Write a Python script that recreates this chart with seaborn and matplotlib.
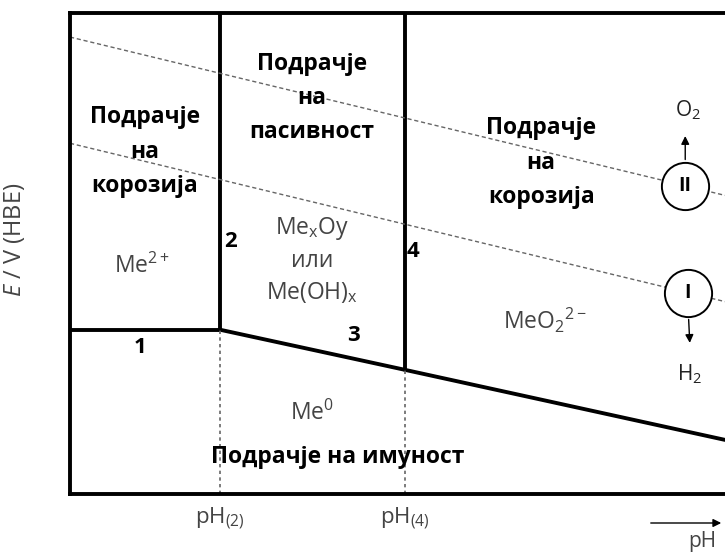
import matplotlib
matplotlib.use("Agg")
import matplotlib.pyplot as plt
from matplotlib.patches import FancyArrowPatch
import seaborn as sns

sns.set_theme(style="white")
plt.rcParams["font.family"] = ["Open Sans", "DejaVu Sans"]
plt.rcParams["mathtext.fontset"] = "custom"
plt.rcParams["mathtext.rm"] = "Open Sans"
plt.rcParams["mathtext.it"] = "Open Sans:italic"
plt.rcParams["mathtext.bf"] = "Open Sans:bold"
plt.rcParams["mathtext.default"] = "regular"

# Schematic Pourbaix diagram: pH on x, potential E on y
ph_min, ph_max = 0.0, 14.0
e_min, e_max = -1.0, 1.4

ph_2 = 3.2          # boundary 2: Me2+ / oxide
ph_4 = 7.15         # boundary 4: oxide / MeO2 2-
e_line1 = -0.18     # boundary 1: Me / Me2+

# boundary 3 (Me / oxide) and its continuation (Me / MeO2 2-)
line3_ph = [3.2, 7.15, 14.0]
line3_e = [-0.18, -0.38, -0.73]

# water stability lines
water_ph = [0.0, 14.0]
o2_e = [1.28, 0.49]
h2_e = [0.75, -0.04]

# electrode reaction markers on the water lines
marker_ph = [13.15, 13.2]
marker_e = [0.535, 0.005]
marker_txt = ["II", "I"]

tick_pos = [ph_2, ph_4]
tick_txt = [r"pH$_{(2)}$", r"pH$_{(4)}$"]

W, H = 725, 552
fig = plt.figure(figsize=(W / 100, H / 100), dpi=100)
ax = fig.add_axes([70 / W, 58 / H, 655 / W, 481 / H])
ax.set_xlim(ph_min, ph_max)
ax.set_ylim(e_min, e_max)

lw = 2.8
for side in ["left", "top", "bottom"]:
    ax.spines[side].set_color("black")
    ax.spines[side].set_linewidth(lw)
ax.spines["right"].set_visible(False)

# thick domain boundaries
sns.lineplot(x=[ph_min, ph_2], y=[e_line1, e_line1], estimator=None, sort=False,
             color="black", linewidth=lw, ax=ax)
sns.lineplot(x=[ph_2, ph_2], y=[e_line1, e_max], estimator=None, sort=False,
             color="black", linewidth=lw, ax=ax)
sns.lineplot(x=[ph_4, ph_4], y=[line3_e[1], e_max], estimator=None, sort=False,
             color="black", linewidth=lw, ax=ax)
sns.lineplot(x=line3_ph, y=line3_e, estimator=None, sort=False,
             color="black", linewidth=lw, ax=ax)

# dotted guides down to the pH axis
sns.lineplot(x=[ph_2, ph_2], y=[e_min, e_line1], estimator=None, sort=False,
             color="#666666", linewidth=1.2, linestyle=(0, (2, 2)), ax=ax)
sns.lineplot(x=[ph_4, ph_4], y=[e_min, line3_e[1]], estimator=None, sort=False,
             color="#666666", linewidth=1.2, linestyle=(0, (2, 2)), ax=ax)

# water lines
for ev in (o2_e, h2_e):
    sns.lineplot(x=water_ph, y=ev, estimator=None, sort=False,
                 color="#666666", linewidth=1.0, linestyle=(0, (3, 2)), ax=ax)

sns.scatterplot(x=marker_ph, y=marker_e, s=34 ** 2, color="white",
                edgecolor="black", linewidth=1.4, zorder=5, ax=ax, clip_on=False)
for px, py, t in zip(marker_ph, marker_e, marker_txt):
    ax.text(px, py, t, ha="center", va="center", fontsize=14, fontweight="bold",
            color="black", zorder=6)

# gas evolution arrows
ax.annotate("", xy=(13.15, 0.80), xytext=(13.15, 0.655),
            arrowprops=dict(arrowstyle="-|>", color="black", lw=1.0, mutation_scale=12))
ax.text(13.2, 0.915, r"O$_2$", ha="center", va="center", fontsize=15, color="#222222")
ax.annotate("", xy=(13.25, -0.26), xytext=(13.22, -0.115),
            arrowprops=dict(arrowstyle="-|>", color="black", lw=1.0, mutation_scale=12))
ax.text(13.25, -0.40, r"H$_2$", ha="center", va="center", fontsize=15, color="#222222")

bold = dict(ha="center", va="center", fontsize=16.5, fontweight="bold",
            color="black", linespacing=1.58)
ax.text(1.60, 0.707, "Подрачје\nна\nкорозија", **bold)
ax.text(5.17, 0.976, "Подрачје\nна\nпасивност", **bold)
ax.text(10.07, 0.652, "Подрачје\nна\nкорозија", **bold)
ax.text(5.73, -0.815, "Подрачје на имуност", **bold)

num = dict(ha="center", va="center", fontsize=16, fontweight="bold", color="black")
ax.text(1.50, -0.27, "1", **num)
ax.text(3.44, 0.262, "2", **num)
ax.text(6.05, -0.21, "3", **num)
ax.text(7.33, 0.21, "4", **num)

spec = dict(ha="center", va="center", fontsize=16.5, color="#444444")
ax.text(1.54, 0.138, r"Me$^{2+}$", **spec)
ax.text(5.17, 0.168, "Me$_x$Oy\nили\nMe(OH)$_x$", linespacing=1.38, **spec)
ax.text(10.15, -0.132, r"MeO$_2$$^{2-}$", **spec)
ax.text(5.17, -0.596, r"Me$^0$", **spec)

ax.set_xticks(tick_pos)
ax.set_xticklabels(tick_txt, fontsize=16, color="#444444")
ax.set_yticks([])
ax.tick_params(axis="x", length=0, pad=8)

ax.set_ylabel(r"$\it{E}$ / V (НВЕ)", fontsize=17, color="#444444")
ax.yaxis.set_label_coords(-0.066, 0.528)

# pH direction arrow under the axis
fig.patches.append(FancyArrowPatch(
    (648 / W, 1 - 523 / H), (724 / W, 1 - 523 / H), transform=fig.transFigure,
    arrowstyle="-|>", mutation_scale=12, color="black", lw=1.0))
fig.text(702 / W, 1 - 541 / H, "pH", ha="center", va="center", fontsize=15, color="#444444")

fig.savefig("out.png", dpi=100)
